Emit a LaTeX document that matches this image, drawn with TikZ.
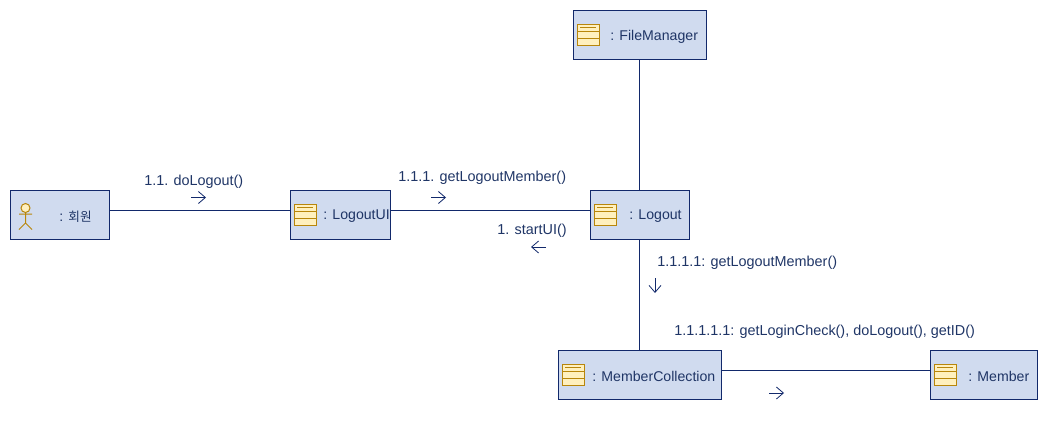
\documentclass[tikz,border=0pt]{standalone}
\usepackage{fontspec}
\setmainfont{Liberation Sans}
\newfontfamily\krfont{Noto Sans CJK KR}
\usetikzlibrary{positioning, calc, arrows.meta}
\definecolor{linkblue}{HTML}{12296B}
\definecolor{textblue}{HTML}{1F3566}
\definecolor{boxfill}{HTML}{D0DBEF}
\definecolor{iconfill}{HTML}{FFF0BE}
\definecolor{iconline}{HTML}{B8860B}
\def\unit{0.75pt}
\tikzset{
  objbox/.style={draw=linkblue, fill=boxfill, line width=\unit, inner sep=0pt, minimum height=49*\unit},
  objtext/.style={text=textblue, font=\fontsize{10.6pt}{12pt}\selectfont, inner sep=0pt, anchor=west},
  msgtext/.style={objtext, font=\fontsize{10.8pt}{12pt}\selectfont},
  link/.style={draw=linkblue, line width=\unit},
  msgarrow/.style={draw=linkblue, line width=0.6pt, -{Straight Barb[length=5.25pt, width=9pt]}},
  classicon/.pic={
    \draw[iconline, fill=iconfill, line width=\unit] (0, -10.5) rectangle (22, 10.5);
    \draw[iconline, line width=\unit] (0, -3.5) -- (22, -3.5) (0, 3.5) -- (22, 3.5) (3, -7) -- (19, -7);
  },
  actoricon/.pic={
    \draw[iconline, fill=iconfill, line width=\unit] (0, -6) circle (4.5);
    \draw[iconline, line width=\unit] (0, -1.5) -- (0, 9) (-6.5, 0) -- (6.5, 0) (-6.5, 15.5) -- (0, 9) -- (6.5, 15.5);
  },
}
\begin{document}
\begin{tikzpicture}[x=\unit, y=-\unit]
    \useasboundingbox (0, 0) rectangle (1048, 421);

    % The objects
    \node[objbox, minimum width=99*\unit] (member_actor) at (59.5, 214.5) {};
    \node[objbox, minimum width=100*\unit] (logout_ui) at (340, 214.5) {};
    \node[objbox, minimum width=99*\unit] (logout) at (639.5, 214.5) {};
    \node[objbox, minimum width=133*\unit] (file_manager) at (639.5, 34.5) {};
    \node[objbox, minimum width=163*\unit] (member_collection) at (639.5, 374.5) {};
    \node[objbox, minimum width=107*\unit] (member) at (983.5, 374.5) {};

    % The icons
    \pic at (25.5, 214) {actoricon};
    \pic at (294, 214.5) {classicon};
    \pic at (594, 214.5) {classicon};
    \pic at (577, 34.5) {classicon};
    \pic at (562, 374.5) {classicon};
    \pic at (934, 374.5) {classicon};

    % The names
    \node[objtext] (member_actor_name) at (59, 216.5) {: {\krfont\fontsize{9.5pt}{12pt}\selectfont 회원}};
    \node[objtext] (logout_ui_name) at (323, 216.5) {: LogoutUI};
    \node[objtext] (logout_name) at (629, 216.5) {: Logout};
    \node[objtext] (file_manager_name) at (610, 36.5) {: FileManager};
    \node[objtext] (member_collection_name) at (592, 376.5) {: MemberCollection};
    \node[objtext] (member_name) at (968, 376.5) {: Member};

    % The links
    \draw[link] ([yshift=3pt]member_actor.east) -- ([yshift=3pt]logout_ui.west);
    \draw[link] ([yshift=3pt]logout_ui.east) -- ([yshift=3pt]logout.west);
    \draw[link] (file_manager) -- (logout);
    \draw[link] (logout) -- (member_collection);
    \draw[link] ([yshift=3pt]member_collection.east) -- ([yshift=3pt]member.west);

    % The messages
    \coordinate (msg_a_from) at (191, 197.5);
    \coordinate (msg_a_to) at (206, 197.5);
    \coordinate (msg_b_from) at (431, 197.5);
    \coordinate (msg_b_to) at (446, 197.5);
    \coordinate (msg_c_from) at (546, 247);
    \coordinate (msg_c_to) at (531, 247);
    \coordinate (msg_d_from) at (655, 278);
    \coordinate (msg_d_to) at (655, 293);
    \coordinate (msg_e_from) at (769, 393);
    \coordinate (msg_e_to) at (784, 393);
    \draw[msgarrow] (msg_a_from) -- (msg_a_to);
    \draw[msgarrow] (msg_b_from) -- (msg_b_to);
    \draw[msgarrow] (msg_c_from) -- (msg_c_to);
    \draw[msgarrow] (msg_d_from) -- (msg_d_to);
    \draw[msgarrow] (msg_e_from) -- (msg_e_to);

    % The labels
    \node[msgtext] (msg_a) at (144, 181.5) {1.1. doLogout()};
    \node[msgtext] (msg_b) at (398, 177.5) {1.1.1. getLogoutMember()};
    \node[msgtext] (msg_c) at (497, 230.5) {1. startUI()};
    \node[msgtext] (msg_d) at (657, 262.5) {1.1.1.1: getLogoutMember()};
    \node[msgtext] (msg_e) at (674, 331.5) {1.1.1.1.1: getLoginCheck(), doLogout(), getID()};
\end{tikzpicture}
\end{document}
